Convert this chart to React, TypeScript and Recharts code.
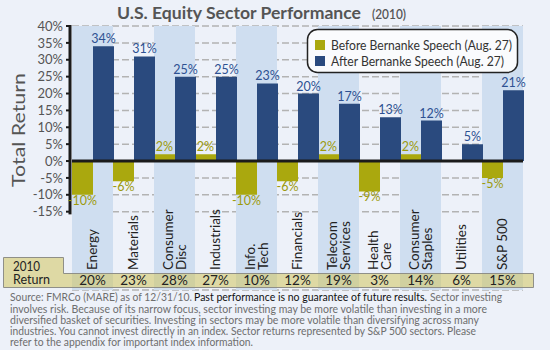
import React from 'react';
import {
  BarChart,
  Bar,
  XAxis,
  YAxis,
  CartesianGrid,
  ReferenceArea,
  ReferenceLine,
  LabelList,
} from 'recharts';

// ---------- data ----------
const sectors = [
  'Energy',
  'Materials',
  'Consumer\nDisc',
  'Industrials',
  'Info.\nTech',
  'Financials',
  'Telecom\nServices',
  'Health\nCare',
  'Consumer\nStaples',
  'Utilities',
  'S&P 500',
];
const beforeSpeech = [-10, -6, 2, 2, -10, -6, 2, -9, 2, 0, -5];
const afterSpeech = [34, 31, 25, 25, 23, 20, 17, 13, 12, 5, 21];
const return2010 = [20, 23, 28, 27, 10, 12, 19, 3, 14, 6, 15];
const yTicks = [-15, -10, -5, 0, 5, 10, 15, 20, 25, 30, 35, 40];
const seriesNames = ['Before Bernanke Speech (Aug. 27)', 'After Bernanke Speech (Aug. 27)'];
const titleText = 'U.S. Equity Sector Performance';
const titleYear = '(2010)';
const yLabel = 'Total Return';
const returnLabel = ['2010', 'Return'];
const footerLine1 = ['Source: FMRCo (MARE) as of 12/31/10.', 'Past performance is no guarantee of future results.', 'Sector investing'];
const footerLines = [
  'involves risk. Because of its narrow focus, sector investing may be more volatile than investing in a more',
  'diversified basket of securities. Investing in sectors may be more volatile than diversifying across many',
  'industries. You cannot invest directly in an index. Sector returns represented by S&P 500 sectors. Please',
  'refer to the appendix for important index information.',
];

const data = sectors.map((s, i) => ({
  sector: s,
  before: beforeSpeech[i],
  after: afterSpeech[i],
}));

// ---------- styles ----------
const FONT = "Lato, 'Open Sans', 'DejaVu Sans', sans-serif";
const BG = '#edf1f9';
const BAND = '#cfdef0';
const OLIVE = '#aaa80e';
const NAVY = '#2a4a7e';
const OLIVE_TXT = '#9c9a0c';
const NAVY_TXT = '#2e5192';
const Y_MIN = -38.2;
const Y_MAX = 40;
const ROW_TOP = -33.18;
const ROW_BOTTOM = -37.32;

const CatTick = (props: any) => {
  const { x, y, payload } = props;
  const idx = payload.index;
  const lines = String(payload.value).split('\n');
  const lh = 12.5;
  return (
    <g>
      <text
        transform={`translate(${x},${y - 20}) rotate(-90)`}
        textAnchor="start"
        fontSize={13.5}
        fill="#222"
        fontFamily={FONT}
      >
        {lines.map((l, k) => (
          <tspan key={k} x={0} y={(k - (lines.length - 1) / 2) * lh} dy="0.36em">
            {l}
          </tspan>
        ))}
      </text>
      <text x={x} y={y - 5.5} textAnchor="middle" fontSize={13.5} fill="#222" fontFamily={FONT}>
        {return2010[idx]}%
      </text>
    </g>
  );
};

const YTick = (props: any) => {
  const { x, y, payload } = props;
  return (
    <g>
      <line x1={x - 6} y1={y} x2={x - 2} y2={y} stroke="#1b1b1b" strokeWidth={2} />
      <text x={x - 9} y={y} dy="0.36em" textAnchor="end" fontSize={13} fill="#555" fontFamily={FONT}>
        {payload.value}%
      </text>
    </g>
  );
};

const makeLabel = (color: string) => (props: any) => {
  const { x, y, width, height, value } = props;
  if (value === undefined || value === null) return null;
  const top = Math.min(y, y + height);
  const bottom = Math.max(y, y + height);
  const cx = x + width / 2;
  const neg = Number(value) < 0;
  return (
    <text
      x={cx}
      y={neg ? bottom + 10 : top - 3}
      textAnchor="middle"
      fontSize={12.5}
      fill={color}
      fontFamily={FONT}
    >
      {value}%
    </text>
  );
};

const ReturnRow = (p: any) => {
  const x = Math.round(p.x) + 0.5;
  const y = Math.round(p.y) + 0.5;
  const w = Math.round(p.width);
  const h = Math.round(p.height);
  const d = `M${x - 69},${y - 16} H${x - 9} V${y} H${x + w + 10} V${y + h} H${x - 69} Z`;
  return <path d={d} fill="#d2c45f" fillOpacity={0.55} stroke="#8f8f88" strokeWidth={1} />;
};

export default function App() {
  return (
    <div
      style={{
        position: 'absolute',
        left: 0,
        top: 0,
        width: 550,
        height: 350,
        background: BG,
        overflow: 'hidden',
        fontFamily: FONT,
      }}
    >
      <BarChart
        width={550}
        height={350}
        data={data}
        margin={{ top: 26, right: 27, bottom: 30, left: 0 }}
        barCategoryGap={0}
        barGap={0}
      >
        <CartesianGrid vertical={false} stroke="#b3b3b3" strokeWidth={1.5} strokeDasharray="7 3" />
        {sectors.map((s, i) =>
          i % 2 === 0 ? (
            <ReferenceArea
              key={s}
              x1={s}
              x2={s}
              y1={Y_MIN}
              y2={Y_MAX}
              fill={BAND}
              fillOpacity={1}
              stroke="none"
              ifOverflow="visible"
            />
          ) : null
        )}
        <ReferenceArea
          x1={sectors[0]}
          x2={sectors[sectors.length - 1]}
          y1={ROW_BOTTOM}
          y2={ROW_TOP}
          ifOverflow="visible"
          shape={(p: any) => <ReturnRow {...p} />}
        />
        <XAxis
          dataKey="sector"
          axisLine={false}
          tickLine={false}
          tickSize={0}
          tickMargin={0}
          height={30}
          interval={0}
          tick={<CatTick />}
        />
        <YAxis
          type="number"
          domain={[Y_MIN, Y_MAX]}
          ticks={yTicks}
          interval={0}
          allowDataOverflow
          axisLine={false}
          tickLine={false}
          tickSize={0}
          tickMargin={0}
          width={72}
          tick={<YTick />}
        />
        <Bar dataKey="before" name={seriesNames[0]} fill={OLIVE} isAnimationActive={false}>
          <LabelList dataKey="before" content={makeLabel(OLIVE_TXT)} />
        </Bar>
        <Bar dataKey="after" name={seriesNames[1]} fill={NAVY} isAnimationActive={false}>
          <LabelList dataKey="after" content={makeLabel(NAVY_TXT)} />
        </Bar>
        <ReferenceLine y={0} stroke="#1b1b1b" strokeWidth={3} />
        <ReferenceLine
          segment={[
            { x: sectors[0], y: -15.8 },
            { x: sectors[0], y: 40.3 },
          ]}
          position="start"
          ifOverflow="visible"
          shape={(p: any) => (
            <line x1={p.x1 - 2} y1={p.y1} x2={p.x2 - 2} y2={p.y2} stroke="#1b1b1b" strokeWidth={3} />
          )}
        />
      </BarChart>

      <svg
        width={550}
        height={350}
        style={{ position: 'absolute', left: 0, top: 0, pointerEvents: 'none' }}
        fontFamily={FONT}
      >
        {/* title */}
        <text x={117} y={18.5} fontSize={17} fontWeight={700} fill="#555" textLength={244} lengthAdjust="spacingAndGlyphs">
          {titleText}
        </text>
        <text x={372} y={18.5} fontSize={12.5} fontWeight={600} fill="#555" textLength={34} lengthAdjust="spacingAndGlyphs">
          {titleYear}
        </text>
        {/* y label */}
        <text
          transform="translate(25,130) rotate(-90)"
          textAnchor="middle"
          fontSize={18}
          fill="#555"
          textLength={114}
          lengthAdjust="spacingAndGlyphs"
        >
          {yLabel}
        </text>
        {/* legend */}
        <rect x={307.5} y={29.5} width={210} height={43} rx={10} ry={10} fill="#fafbfd" stroke="#222" strokeWidth={1.5} />
        <rect x={315} y={40} width={10} height={10} fill={OLIVE} />
        <rect x={315} y={56} width={10} height={10} fill={NAVY} />
        <text x={331} y={49.5} fontSize={12.5} fill="#333" textLength={181} lengthAdjust="spacingAndGlyphs">
          {seriesNames[0]}
        </text>
        <text x={331} y={65.5} fontSize={12.5} fill="#333" textLength={173} lengthAdjust="spacingAndGlyphs">
          {seriesNames[1]}
        </text>
        {/* 2010 return tab text */}
        <text x={13} y={271} fontSize={12.5} fill="#222" textLength={27} lengthAdjust="spacingAndGlyphs">
          {returnLabel[0]}
        </text>
        <text x={13} y={284} fontSize={12.5} fill="#222" textLength={37} lengthAdjust="spacingAndGlyphs">
          {returnLabel[1]}
        </text>
        {/* footer */}
        <text x={10} y={300.5} fontSize={10.5} fill="#6e6e6e" textLength={182} lengthAdjust="spacingAndGlyphs">
          {footerLine1[0]}
        </text>
        <text x={194} y={300.5} fontSize={10.5} fill="#111" textLength={233} lengthAdjust="spacingAndGlyphs">
          {footerLine1[1]}
        </text>
        <text x={430} y={300.5} fontSize={10.5} fill="#6e6e6e" textLength={72} lengthAdjust="spacingAndGlyphs">
          {footerLine1[2]}
        </text>
        {footerLines.map((l, i) => (
          <text
            key={i}
            x={10}
            y={[313, 324, 335, 345.5][i]}
            fontSize={10.5}
            fill="#6e6e6e"
            textLength={[477, 469, 466, 243][i]}
            lengthAdjust="spacingAndGlyphs"
          >
            {l}
          </text>
        ))}
      </svg>
    </div>
  );
}
